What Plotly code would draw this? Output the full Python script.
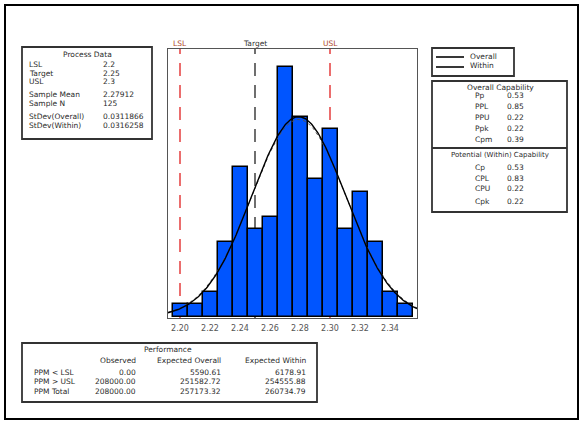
import numpy as np
import plotly.graph_objects as go

# ---- data ----
bin_centers = [2.20, 2.21, 2.22, 2.23, 2.24, 2.25, 2.26, 2.27, 2.28, 2.29, 2.30, 2.31, 2.32, 2.33, 2.34, 2.35]
counts = [1, 1, 2, 6, 12, 7, 8, 20, 16, 11, 15, 7, 10, 6, 2, 1]
bin_width = 0.01
LSL, TARGET, USL = 2.2, 2.25, 2.3
sample_mean = 2.27912
sample_n = 125
sd_overall = 0.0311866
sd_within = 0.0316258
tick_vals = [2.20, 2.22, 2.24, 2.26, 2.28, 2.30, 2.32, 2.34]
tick_text = ["2.20", "2.22", "2.24", "2.26", "2.28", "2.30", "2.32", "2.34"]

process_labels = ["LSL", "Target", "USL", "Sample Mean", "Sample N", "StDev(Overall)", "StDev(Within)"]
process_values = ["2.2", "2.25", "2.3", "2.27912", "125", "0.0311866", "0.0316258"]
overall_labels = ["Pp", "PPL", "PPU", "Ppk", "Cpm"]
overall_values = ["0.53", "0.85", "0.22", "0.22", "0.39"]
within_labels = ["Cp", "CPL", "CPU", "Cpk"]
within_values = ["0.53", "0.83", "0.22", "0.22"]
perf_rows = ["PPM < LSL", "PPM > USL", "PPM Total"]
perf_observed = ["0.00", "208000.00", "208000.00"]
perf_exp_overall = ["5590.61", "251582.72", "257173.32"]
perf_exp_within = ["6178.91", "254555.88", "260734.79"]

W, H = 581, 421
def P(px):
    return px / W
def Q(py):
    return 1 - py / H

FONT = "DejaVu Sans"
TXT = "#2a2a2a"

fig = go.Figure()

fig.add_trace(go.Bar(x=bin_centers, y=counts, width=bin_width,
                     marker=dict(color="#0055FF", line=dict(color="black", width=1.5)),
                     showlegend=False, hoverinfo="skip"))

xs = np.linspace(2.192, 2.358, 300)
def normal_counts(x, mu, sd):
    return sample_n * bin_width * np.exp(-0.5 * ((x - mu) / sd) ** 2) / (sd * np.sqrt(2 * np.pi))

fig.add_trace(go.Scatter(x=xs, y=normal_counts(xs, sample_mean, sd_within), mode="lines",
                         line=dict(color="#555555", width=1, dash="dot"), showlegend=False, hoverinfo="skip"))
fig.add_trace(go.Scatter(x=xs, y=normal_counts(xs, sample_mean, sd_overall), mode="lines",
                         line=dict(color="black", width=1.4), showlegend=False, hoverinfo="skip"))

shapes = []
annotations = []

# spec lines
for xv, col in [(LSL, "#E02020"), (TARGET, "#222222"), (USL, "#E02020")]:
    shapes.append(dict(type="line", xref="x", yref="y domain", x0=xv, x1=xv, y0=0, y1=1,
                       line=dict(color=col, width=1.3, dash="13px,9px"), layer="below"))
for xv, txt, col in [(LSL, "LSL", "#B04828"), (TARGET, "Target", "#333333"), (USL, "USL", "#B04828")]:
    annotations.append(dict(x=xv, y=Q(43), xref="x", yref="paper", text=txt, showarrow=False,
                            xanchor="center", yanchor="middle", font=dict(size=7.5, color=col, family=FONT)))

def box(x0, y0, x1, y1, w=1.8, col="#333333"):
    shapes.append(dict(type="rect", xref="paper", yref="paper", x0=P(x0), x1=P(x1), y0=Q(y0), y1=Q(y1),
                       line=dict(color=col, width=w), fillcolor="rgba(0,0,0,0)"))

def text(px, py, t, anchor="left", size=7.5):
    annotations.append(dict(x=P(px), y=Q(py), xref="paper", yref="paper", text=t, showarrow=False,
                            xanchor=anchor, yanchor="middle", font=dict(size=size, color=TXT, family=FONT)))

# outer border
box(5, 5, 578, 419, w=2, col="black")

# Process data box
box(22, 47, 152, 139)
text(87, 55, "Process Data", "center")
pd_y = [64, 73, 82, 95, 104, 116, 125]
for lab, val, yy in zip(process_labels, process_values, pd_y):
    text(27, yy, lab)
    text(101, yy, val)

# Legend box
box(432, 48, 514, 76)
for yy in [57, 67]:
    shapes.append(dict(type="line", xref="paper", yref="paper", x0=P(436), x1=P(464), y0=Q(yy), y1=Q(yy),
                       line=dict(color="#222222", width=1.8)))
text(468, 56, "Overall")
text(468, 66, "Within")

# Capability box
box(432, 81, 567, 212)
shapes.append(dict(type="line", xref="paper", yref="paper", x0=P(432), x1=P(567), y0=Q(148), y1=Q(148),
                   line=dict(color="#333333", width=1.8)))
text(500, 87, "Overall Capability", "center")
for lab, val, yy in zip(overall_labels, overall_values, [96, 107, 117, 128, 139]):
    text(473, yy, lab)
    text(505, yy, val)
text(500, 155, "Potential (Within) Capability", "center", size=7)
for lab, val, yy in zip(within_labels, within_values, [167, 178, 189, 201]):
    text(473, yy, lab)
    text(505, yy, val)

# Performance box
box(22, 343, 317, 402)
text(168, 349, "Performance", "center")
text(138, 360, "Observed", "right")
text(223, 360, "Expected Overall", "right")
text(308, 360, "Expected Within", "right")
for lab, o, eo, ew, yy in zip(perf_rows, perf_observed, perf_exp_overall, perf_exp_within, [372, 381, 391]):
    text(32, yy, lab)
    text(138, yy, o, "right")
    text(223, yy, eo, "right")
    text(308, yy, ew, "right")

fig.update_layout(
    width=W, height=H, margin=dict(l=0, r=0, t=0, b=0),
    paper_bgcolor="white", plot_bgcolor="white",
    shapes=shapes, annotations=annotations, bargap=0,
    xaxis=dict(domain=[P(168), P(417)], range=[2.192, 2.358], tickvals=tick_vals, ticktext=tick_text,
               showgrid=False, zeroline=False, showline=True, linecolor="#555555", linewidth=1.2, mirror=True,
               ticks="", tickfont=dict(size=8, color="#555555", family=FONT), ticklabelstandoff=2),
    yaxis=dict(domain=[Q(318), Q(49)], range=[-0.1, 21.4], showticklabels=False, showgrid=False, zeroline=False,
               showline=True, linecolor="#555555", linewidth=1.2, mirror=True, ticks=""),
)

fig.write_html("out.html")
